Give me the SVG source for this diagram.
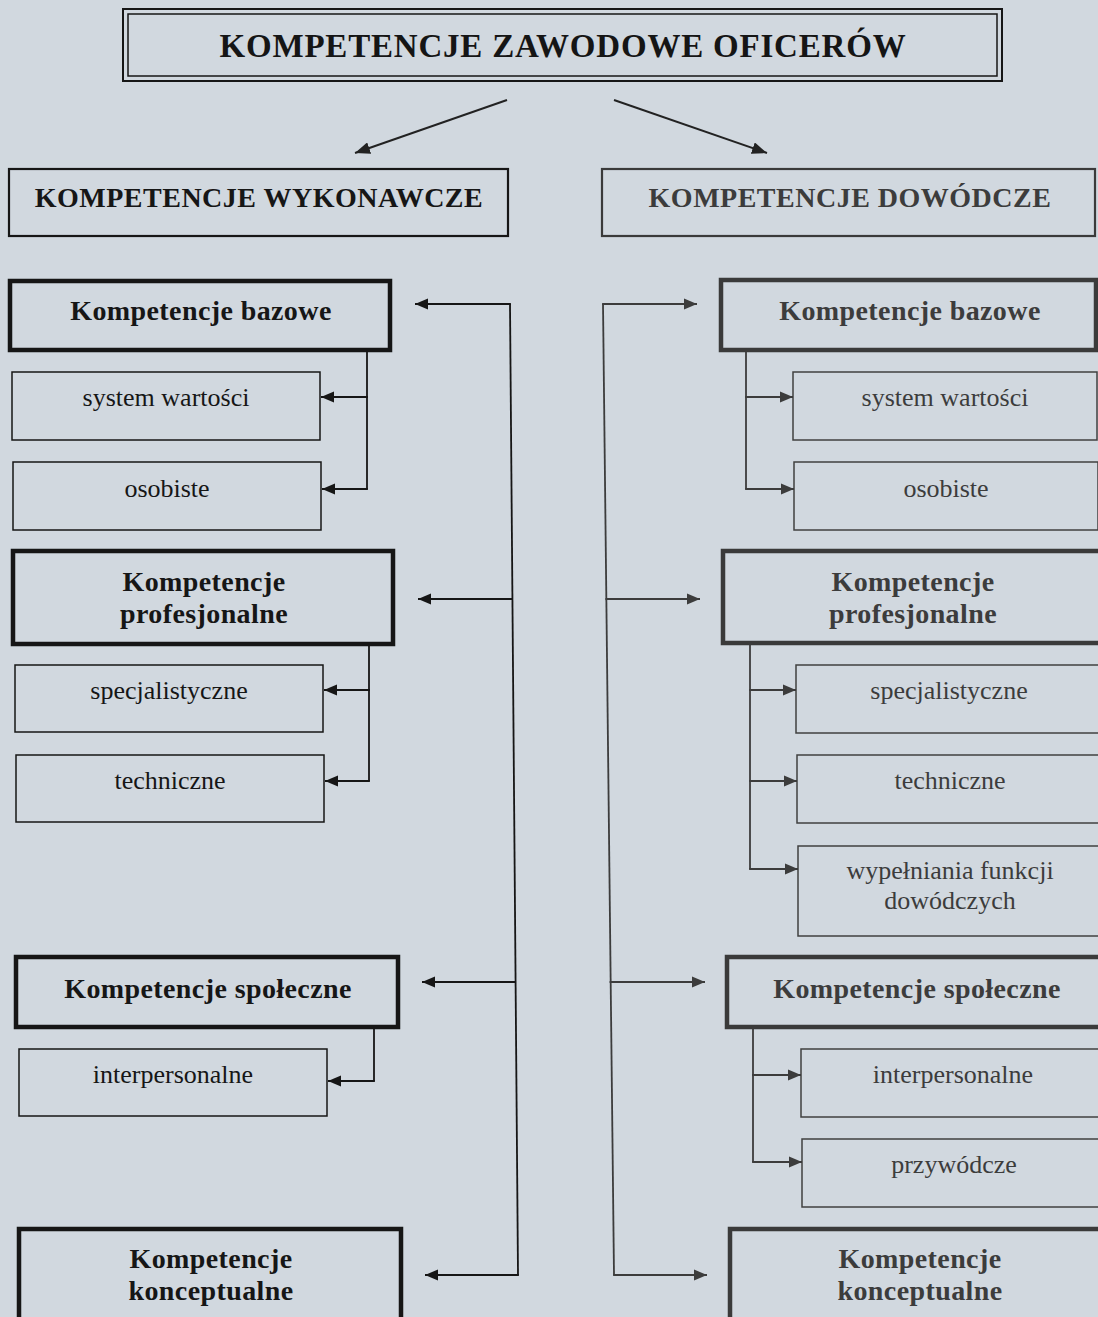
<svg xmlns="http://www.w3.org/2000/svg" width="1098" height="1317" viewBox="0 0 1098 1317">
<defs>
<style>
.bg{fill:#d1d8df}
.t{font-family:"Liberation Serif","Times New Roman",serif;text-anchor:middle}
.title{font-size:33px;font-weight:bold;letter-spacing:0.8px;fill:#151515}
.hdr{font-size:28px;font-weight:bold;letter-spacing:0.5px}
.bold{font-size:28px;font-weight:bold;letter-spacing:0.4px}
.reg{font-size:26px}
.L{fill:#161616}
.R{fill:#3c3c3c}
.boxL{fill:none;stroke:#161616;stroke-width:1.5}
.boxR{fill:none;stroke:#404040;stroke-width:1.5}
.hboxL{fill:none;stroke:#161616;stroke-width:2.2}
.hboxR{fill:none;stroke:#3a3a3a;stroke-width:2.2}
.thickL{fill:none;stroke:#161616;stroke-width:4.5}
.thickR{fill:none;stroke:#3a3a3a;stroke-width:4.5}
.cL{fill:none;stroke:#161616;stroke-width:1.8}
.cR{fill:none;stroke:#3c3c3c;stroke-width:1.8}
.aL{marker-end:url(#arrL)}
.aR{marker-end:url(#arrR)}
</style>
<marker id="arrL" markerUnits="userSpaceOnUse" markerWidth="14" markerHeight="12" refX="13" refY="6" orient="auto">
<path d="M0,0.5 L13,6 L0,11.5 z" fill="#161616"/>
</marker>
<marker id="arrR" markerUnits="userSpaceOnUse" markerWidth="14" markerHeight="12" refX="13" refY="6" orient="auto">
<path d="M0,0.5 L13,6 L0,11.5 z" fill="#3c3c3c"/>
</marker>
<marker id="arrT" markerUnits="userSpaceOnUse" markerWidth="16" markerHeight="12" refX="15" refY="6" orient="auto">
<path d="M0,0 L15,6 L0,12 z" fill="#222"/>
</marker>
</defs>
<rect class="bg" x="0" y="0" width="1098" height="1317"/>

<g id="title">
<rect x="123" y="9" width="879" height="72" fill="none" stroke="#161616" stroke-width="2"/>
<rect x="128" y="14" width="869" height="62" fill="none" stroke="#161616" stroke-width="1.5"/>
<text class="t title" x="563" y="57">KOMPETENCJE ZAWODOWE OFICERÓW</text>
</g>

<g id="wykonawcze">
<rect class="hboxL" x="9" y="169" width="499" height="67"/>
<text class="t hdr L" x="259" y="207">KOMPETENCJE WYKONAWCZE</text>
</g>
<g id="dowodcze">
<rect class="hboxR" x="602" y="169" width="493" height="67"/>
<text class="t hdr R" x="850" y="207">KOMPETENCJE DOWÓDCZE</text>
</g>

<!-- left column -->
<g id="L-bazowe">
<rect class="thickL" x="10" y="281" width="380" height="69"/>
<text class="t bold L" x="201" y="320">Kompetencje bazowe</text>
</g>
<g id="L-system">
<rect class="boxL" x="12" y="372" width="308" height="68"/>
<text class="t reg L" x="166" y="406">system wartości</text>
</g>
<g id="L-osobiste">
<rect class="boxL" x="13" y="462" width="308" height="68"/>
<text class="t reg L" x="167" y="497">osobiste</text>
</g>
<g id="L-profesjonalne">
<rect class="thickL" x="13" y="551" width="380" height="93"/>
<text class="t bold L" x="204" y="591">Kompetencje</text>
<text class="t bold L" x="204" y="623">profesjonalne</text>
</g>
<g id="L-specjalistyczne">
<rect class="boxL" x="15" y="665" width="308" height="67"/>
<text class="t reg L" x="169" y="699">specjalistyczne</text>
</g>
<g id="L-techniczne">
<rect class="boxL" x="16" y="755" width="308" height="67"/>
<text class="t reg L" x="170" y="789">techniczne</text>
</g>
<g id="L-spoleczne">
<rect class="thickL" x="16" y="957" width="382" height="70"/>
<text class="t bold L" x="208" y="998">Kompetencje społeczne</text>
</g>
<g id="L-interpersonalne">
<rect class="boxL" x="19" y="1049" width="308" height="67"/>
<text class="t reg L" x="173" y="1083">interpersonalne</text>
</g>
<g id="L-konceptualne">
<rect class="thickL" x="19" y="1229" width="382" height="100"/>
<text class="t bold L" x="211" y="1268">Kompetencje</text>
<text class="t bold L" x="211" y="1300">konceptualne</text>
</g>

<!-- right column -->
<g id="R-bazowe">
<rect class="thickR" x="721" y="280" width="375" height="70"/>
<text class="t bold R" x="910" y="320">Kompetencje bazowe</text>
</g>
<g id="R-system">
<rect class="boxR" x="793" y="372" width="304" height="68"/>
<text class="t reg R" x="945" y="406">system wartości</text>
</g>
<g id="R-osobiste">
<rect class="boxR" x="794" y="462" width="304" height="68"/>
<text class="t reg R" x="946" y="497">osobiste</text>
</g>
<g id="R-profesjonalne">
<rect class="thickR" x="723" y="551" width="380" height="92"/>
<text class="t bold R" x="913" y="591">Kompetencje</text>
<text class="t bold R" x="913" y="623">profesjonalne</text>
</g>
<g id="R-specjalistyczne">
<rect class="boxR" x="796" y="665" width="310" height="68"/>
<text class="t reg R" x="949" y="699">specjalistyczne</text>
</g>
<g id="R-techniczne">
<rect class="boxR" x="797" y="755" width="310" height="68"/>
<text class="t reg R" x="950" y="789">techniczne</text>
</g>
<g id="R-wypelniania">
<rect class="boxR" x="798" y="846" width="310" height="90"/>
<text class="t reg R" x="950" y="879">wypełniania funkcji</text>
<text class="t reg R" x="950" y="909">dowódczych</text>
</g>
<g id="R-spoleczne">
<rect class="thickR" x="727" y="957" width="380" height="70"/>
<text class="t bold R" x="917" y="998">Kompetencje społeczne</text>
</g>
<g id="R-interpersonalne">
<rect class="boxR" x="801" y="1049" width="310" height="68"/>
<text class="t reg R" x="953" y="1083">interpersonalne</text>
</g>
<g id="R-przywodcze">
<rect class="boxR" x="802" y="1139" width="310" height="68"/>
<text class="t reg R" x="954" y="1173">przywódcze</text>
</g>
<g id="R-konceptualne">
<rect class="thickR" x="730" y="1229" width="380" height="100"/>
<text class="t bold R" x="920" y="1268">Kompetencje</text>
<text class="t bold R" x="920" y="1300">konceptualne</text>
</g>

<g id="connectors">
<line x1="507" y1="100" x2="355" y2="153" stroke="#222" stroke-width="2" marker-end="url(#arrT)"/>
<line x1="614" y1="100" x2="767" y2="153" stroke="#222" stroke-width="2" marker-end="url(#arrT)"/>

<!-- left trunk -->
<path class="cL" d="M510,304 L518,1275"/>
<path class="cL aL" d="M510.9,304 H415"/>
<path class="cL aL" d="M512.4,599 H418"/>
<path class="cL aL" d="M515.6,982 H422"/>
<path class="cL aL" d="M518.9,1275 H425"/>

<!-- right trunk -->
<path class="cR" d="M603,304 L614,1275"/>
<path class="cR aR" d="M602.1,304 H697"/>
<path class="cR aR" d="M605.4,599 H700"/>
<path class="cR aR" d="M609.6,982 H705"/>
<path class="cR aR" d="M613.1,1275 H707"/>

<!-- left sub -->
<path class="cL" d="M367,350 V489"/>
<path class="cL aL" d="M367.9,397 H321"/>
<path class="cL aL" d="M367.9,489 H322"/>
<path class="cL" d="M369,644 V781"/>
<path class="cL aL" d="M369.9,690 H324"/>
<path class="cL aL" d="M369.9,781 H325"/>
<path class="cL" d="M374,1027 V1081"/>
<path class="cL aL" d="M374.9,1081 H328"/>

<!-- right sub -->
<path class="cR" d="M746,350 V489"/>
<path class="cR aR" d="M745.1,397 H793"/>
<path class="cR aR" d="M745.1,489 H794"/>
<path class="cR" d="M750,643 V869"/>
<path class="cR aR" d="M749.1,690 H796"/>
<path class="cR aR" d="M749.1,781 H797"/>
<path class="cR aR" d="M749.1,869 H798"/>
<path class="cR" d="M753,1027 V1162"/>
<path class="cR aR" d="M752.1,1075 H801"/>
<path class="cR aR" d="M752.1,1162 H802"/>
</g>
</svg>
